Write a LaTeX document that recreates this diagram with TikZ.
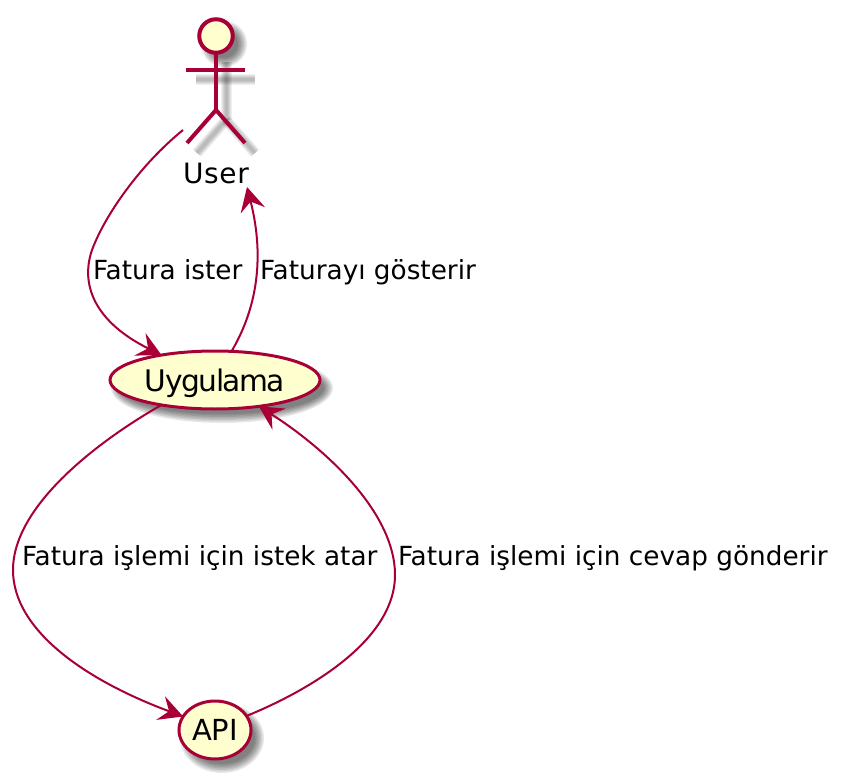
\documentclass[tikz,border=0pt]{standalone}
\usepackage{fontspec}
\setmainfont{DejaVu Sans}
\usetikzlibrary{shapes.geometric,arrows.meta}
\definecolor{plumline}{HTML}{A80036}
\definecolor{plumfill}{HTML}{FEFECE}
\tikzset{
  usecase/.style={ellipse,draw=plumline,fill=plumfill,line width=3pt,inner sep=0pt,outer sep=0pt,text=black},
  lbl/.style={anchor=base west,inner sep=0pt,outer sep=0pt,font=\fontsize{26.3}{30}\selectfont,text=black},
  link/.style={draw=plumline,line width=2pt,-{Stealth[length=24pt,width=25pt,inset=9pt]}},
  limb/.style={draw=plumline,line width=4pt},
  shade/.style={black,opacity=0.09,line width=0pt},
  shadeline/.style={black,opacity=0.06},
}
\begin{document}
\begin{tikzpicture}[x=1pt,y=-1pt]
\useasboundingbox (0,0) rectangle (849,781);
\fill[white] (0,0) rectangle (849,781);
% shadows
\foreach \d in {-4,-2.5,-1,0.5,2,3.5,5}{
  \fill[shade] (222,388) ellipse ({106+\d} and {30+\d});
  \fill[shade] (222,738) ellipse ({37+\d} and {30+\d});
  \fill[shade] (224,44) circle ({18+\d});
}
\foreach \w in {3,5,7,9,11}{
  \draw[shadeline,line width=\w pt] (226,62) -- (226,120);
  \draw[shadeline,line width=\w pt] (196,80) -- (255,80);
  \draw[shadeline,line width=\w pt] (226,120) -- (197,153);
  \draw[shadeline,line width=\w pt] (226,120) -- (255,153);
}
% actor
\node[circle,draw=plumline,fill=plumfill,line width=4pt,minimum size=33.5pt,inner sep=0pt,outer sep=0pt] (head) at (216,36) {};
\coordinate (hip) at (216,110);
\coordinate (armL) at (186,70);
\coordinate (armR) at (245,70);
\coordinate (legL) at (187,143);
\coordinate (legR) at (245,143);
\draw[limb] (head.south) -- (hip);
\draw[limb] (armL) -- (armR);
\draw[limb] (legL) -- (hip) -- (legR);
\node[anchor=base west,inner sep=0pt,outer sep=0pt,font=\fontsize{28}{32}\selectfont\addfontfeature{LetterSpace=2.5}] (user) at (183,183) {User};
% use cases
\node[usecase,minimum width=210pt,minimum height=58pt,font=\fontsize{29.7}{32}\selectfont\addfontfeature{LetterSpace=-5},text height=22pt,text depth=0pt] (app) at (215,380) {Uygulama};
\node[usecase,minimum width=72pt,minimum height=58pt,font=\fontsize{29}{32}\selectfont,text height=20pt,text depth=0pt] (api) at (215,730) {API};
% free ends
\coordinate (userOut) at (183,130);
\coordinate (userIn) at (247,187);
% connectors
\draw[link] (userOut) .. controls (140,165) and (105,215) .. (92,250)
  .. controls (80,285) and (95,322) .. (app.155);
\draw[link] (app.60) .. controls (250,320) and (268,270) .. (userIn);
\draw[link] (app.205) .. controls (100,440) and (13,505) .. (13,570)
  .. controls (13,630) and (85,680) .. (api.157);
\draw[link] (api.24) .. controls (310,690) and (395,640) .. (395,575)
  .. controls (395,510) and (320,445) .. (app.-31);
% labels
\node[lbl] (l1) at (93,279) {Fatura ister};
\node[lbl] (l2) at (260,279) {Faturayı gösterir};
\node[lbl] (l3) at (22,565) {Fatura işlemi için istek atar};
\node[lbl] (l4) at (398,565) {Fatura işlemi için cevap gönderir};
\end{tikzpicture}
\end{document}
